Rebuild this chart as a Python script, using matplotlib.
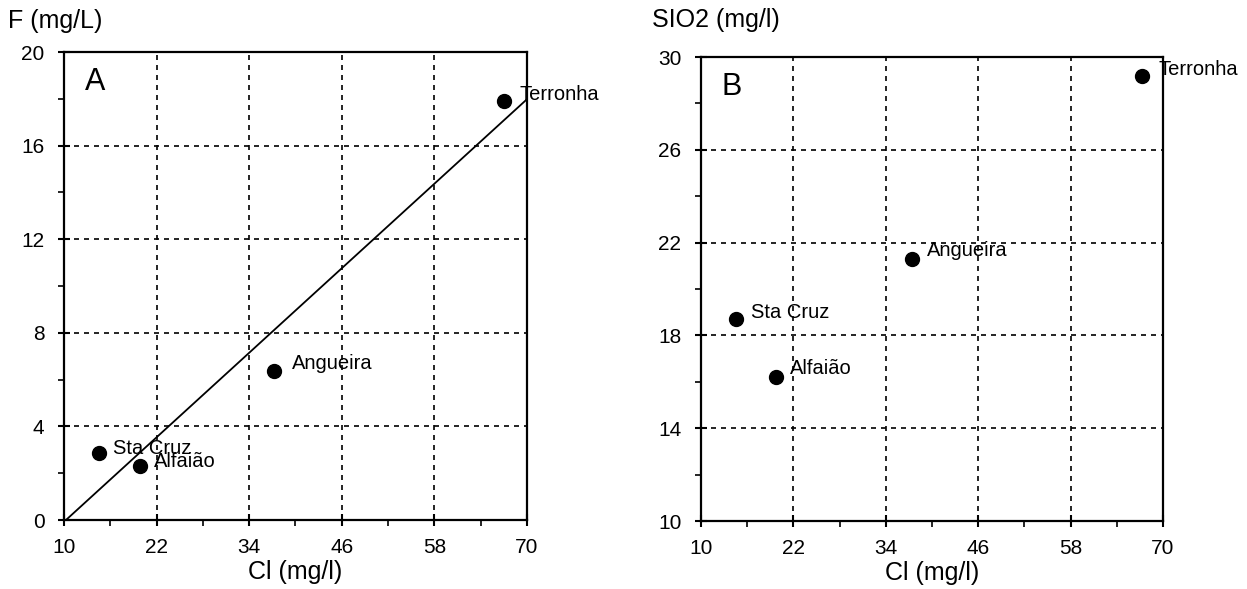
import numpy as np
import matplotlib
matplotlib.use('Agg')
import matplotlib.pyplot as plt

plt.rcParams['font.family'] = ['Liberation Sans', 'DejaVu Sans']

# data
sites = ['Terronha', 'Angueira', 'Sta Cruz', 'Alfaião']
cl_a = [67.0, 37.2, 14.6, 19.9]
f_vals = [17.9, 6.35, 2.85, 2.3]
cl_b = [67.3, 37.4, 14.5, 19.7]
sio2_vals = [29.2, 21.3, 18.7, 16.2]

x_ticks = [10, 22, 34, 46, 58, 70]
f_ticks = [0, 4, 8, 12, 16, 20]
sio2_ticks = [10, 14, 18, 22, 26, 30]

fig = plt.figure(figsize=(12.47, 5.89), dpi=100)
ax_a = fig.add_axes([0.0513, 0.1171, 0.3713, 0.7946])
ax_b = fig.add_axes([0.5621, 0.1154, 0.3705, 0.7878])

# label offsets in points (dx, dy) per site
offs_a = [(11.5, 4.5), (13, 6), (10, 3.5), (9.5, 3.5)]
offs_b = [(11.5, 4.5), (11, 6), (11, 5), (10, 6)]


def style_axes(ax, yticks, ylabel, letter, ylab_x, ylab_y):
    ax.set_xticks(x_ticks)
    ax.set_xticks([(a + b) / 2 for a, b in zip(x_ticks[:-1], x_ticks[1:])], minor=True)
    ax.set_yticks(yticks)
    ax.set_yticks([(a + b) / 2 for a, b in zip(yticks[:-1], yticks[1:])], minor=True)
    ax.set_xlim(x_ticks[0], x_ticks[-1])
    ax.set_ylim(yticks[0], yticks[-1])
    ax.grid(True, which='major', color='black', linestyle=(0, (3, 3)), linewidth=1.2)
    ax.tick_params(which='major', direction='inout', length=8, width=1.5,
                   labelsize=15)
    ax.tick_params(axis='x', which='major', pad=9)
    ax.tick_params(axis='y', which='major', pad=10)
    ax.tick_params(which='minor', direction='out', length=4, width=1.2)
    for sp in ax.spines.values():
        sp.set_linewidth(1.6)
    ax.set_xlabel('Cl (mg/l)', fontsize=18, labelpad=2)
    ax.text(ylab_x, ylab_y, ylabel, transform=ax.transAxes, fontsize=18,
            ha='left', va='center')
    ax.text(0.045, 0.935, letter, transform=ax.transAxes, fontsize=22,
            ha='left', va='center')


# panel A
style_axes(ax_a, f_ticks, 'F (mg/L)', 'A', -0.121, 1.066)
ax_a.plot(cl_a, f_vals, 'o', color='black', markersize=10)
slope, icpt = np.polyfit(cl_a, f_vals, 1)
x0 = -icpt / slope
xx = np.array([x0, 70])
ax_a.plot(xx, slope * xx + icpt, color='black', linewidth=1.3)
for s, x, y, o in zip(sites, cl_a, f_vals, offs_a):
    ax_a.annotate(s, (x, y), xytext=o, textcoords='offset points',
                  fontsize=14.5, va='center', ha='left')

# panel B
style_axes(ax_b, sio2_ticks, 'SIO2 (mg/l)', 'B', -0.106, 1.08)
ax_b.plot(cl_b, sio2_vals, 'o', color='black', markersize=10)
for s, x, y, o in zip(sites, cl_b, sio2_vals, offs_b):
    ax_b.annotate(s, (x, y), xytext=o, textcoords='offset points',
                  fontsize=14.5, va='center', ha='left', annotation_clip=False)

fig.savefig('out.png', dpi=100)
